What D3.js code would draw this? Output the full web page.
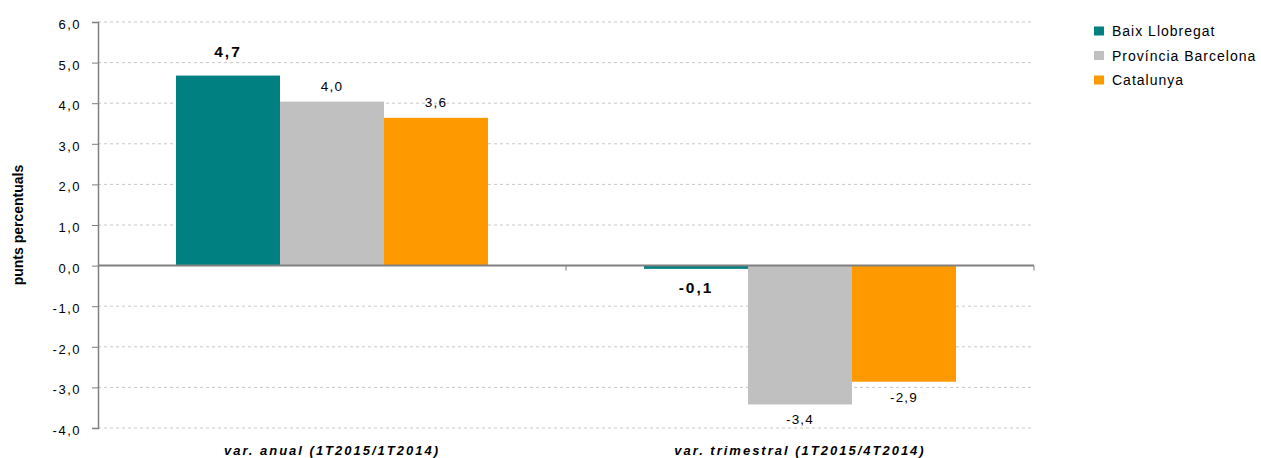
<!DOCTYPE html>
<html lang="ca">
<head>
<meta charset="UTF-8" />
<title>Variació</title>
<script src="https://d3js.org/d3.v7.min.js"></script>
<style>
  body { margin: 0; background: #fff; }
  text { font-family: "Liberation Sans", Arial, sans-serif; fill: #000; }
</style>
</head>
<body>
<script>
  var w = 1261, h = 458;

  // dades
  var categories = ["var. anual (1T2015/1T2014)", "var. trimestral (1T2015/4T2014)"];
  var series = ["Baix Llobregat", "Província Barcelona", "Catalunya"];
  var colors = ["#008080", "#C0C0C0", "#FF9900"];
  var baixValues = [4.68, -0.08];
  var provValues = [4.04, -3.42];
  var catValues = [3.64, -2.86];
  var yTicks = [6, 5, 4, 3, 2, 1, 0, -1, -2, -3, -4];

  var values = [baixValues, provValues, catValues];
  var rows = [];
  categories.forEach(function(c, i) {
    series.forEach(function(s, j) {
      rows.push({ cat: c, serie: s, idx: j, v: values[j][i] });
    });
  });

  var plotL = 98, plotR = 1034, plotT = 22, plotB = 428;

  var svg = d3.select("body").append("svg")
    .attr("width", w)
    .attr("height", h);

  var y = d3.scaleLinear().domain([-4, 6]).range([plotB, plotT]);
  var x0 = d3.scaleBand().domain(categories).range([plotL, plotR]);
  var x1 = d3.scaleBand().domain(series).range([0, 312]);
  var groupOff = (x0.bandwidth() - 312) / 2;

  // graella
  svg.append("g").selectAll("line")
    .data(yTicks.filter(function(t) { return t !== 0; }))
    .enter().append("line")
    .attr("x1", plotL).attr("x2", plotR)
    .attr("y1", function(d) { return y(d); })
    .attr("y2", function(d) { return y(d); })
    .attr("stroke", "#c8c8c8")
    .attr("stroke-dasharray", "3,3");

  // eix Y
  var yAxis = d3.axisLeft(y).tickValues(yTicks).tickSize(6).tickPadding(11)
    .tickFormat(function(d) { return d3.format(".1f")(d).replace(".", ",").replace("−", "-"); });
  var gy = svg.append("g").attr("transform", "translate(" + plotL + ",0)").call(yAxis);
  gy.select(".domain").attr("stroke", "#808080").attr("stroke-width", 1.5);
  gy.selectAll(".tick line").attr("stroke", "#808080");
  gy.selectAll("text").attr("font-size", 13).attr("fill", "#000")
    .attr("letter-spacing", 1.5).attr("dy", "0.5em")
    .style("font-family", "'Liberation Sans', Arial, sans-serif");

  // barres
  svg.append("g").selectAll("rect")
    .data(rows)
    .enter().append("rect")
    .attr("x", function(d) { return x0(d.cat) + groupOff + x1(d.serie); })
    .attr("width", x1.bandwidth())
    .attr("y", function(d) { return y(Math.max(0, d.v)); })
    .attr("height", function(d) { return Math.abs(y(d.v) - y(0)); })
    .attr("fill", function(d) { return colors[d.idx]; });

  // eix X (zero)
  svg.append("line")
    .attr("x1", plotL).attr("x2", plotR)
    .attr("y1", y(0)).attr("y2", y(0))
    .attr("stroke", "#808080").attr("stroke-width", 2);
  svg.append("g").selectAll("line")
    .data([x0(categories[1]), plotR])
    .enter().append("line")
    .attr("x1", function(d) { return d; }).attr("x2", function(d) { return d; })
    .attr("y1", y(0)).attr("y2", y(0) + 5)
    .attr("stroke", "#808080");

  // etiquetes de valors
  svg.append("g").selectAll("text")
    .data(rows)
    .enter().append("text")
    .attr("x", function(d) { return x0(d.cat) + groupOff + x1(d.serie) + x1.bandwidth() / 2; })
    .attr("y", function(d) {
      if (d.idx === 0) return d.v >= 0 ? y(d.v) - 19 : y(d.v) + 24;
      return d.v >= 0 ? y(d.v) - 11 : y(d.v) + 20;
    })
    .attr("text-anchor", "middle")
    .attr("font-size", function(d) { return d.idx === 0 ? 15.5 : 13.5; })
    .attr("font-weight", function(d) { return d.idx === 0 ? "bold" : "normal"; })
    .attr("letter-spacing", function(d) { return d.idx === 0 ? 2 : 1.2; })
    .text(function(d) { return d.v.toFixed(1).replace(".", ","); });

  // etiquetes categories
  svg.append("g").selectAll("text")
    .data(categories)
    .enter().append("text")
    .attr("x", function(d) { return x0(d) + x0.bandwidth() / 2; })
    .attr("y", 455)
    .attr("text-anchor", "middle")
    .attr("font-size", 13)
    .attr("font-weight", "bold")
    .attr("font-style", "italic")
    .attr("letter-spacing", 2)
    .text(function(d) { return d; });

  // títol eix Y
  svg.append("text")
    .attr("transform", "translate(23,225) rotate(-90)")
    .attr("text-anchor", "middle")
    .attr("font-size", 14)
    .attr("font-weight", "bold")
    .attr("letter-spacing", 0)
    .text("punts percentuals");

  // llegenda
  var leg = svg.append("g").selectAll("g")
    .data(series)
    .enter().append("g")
    .attr("transform", function(d, i) { return "translate(1094," + (31 + i * 24.5) + ")"; });
  leg.append("rect")
    .attr("x", 0).attr("y", -4.5).attr("width", 10).attr("height", 9)
    .attr("fill", function(d, i) { return colors[i]; });
  leg.append("text")
    .attr("x", 18).attr("y", 5)
    .attr("font-size", 14)
    .attr("letter-spacing", 1)
    .text(function(d) { return d; });
</script>
</body>
</html>
